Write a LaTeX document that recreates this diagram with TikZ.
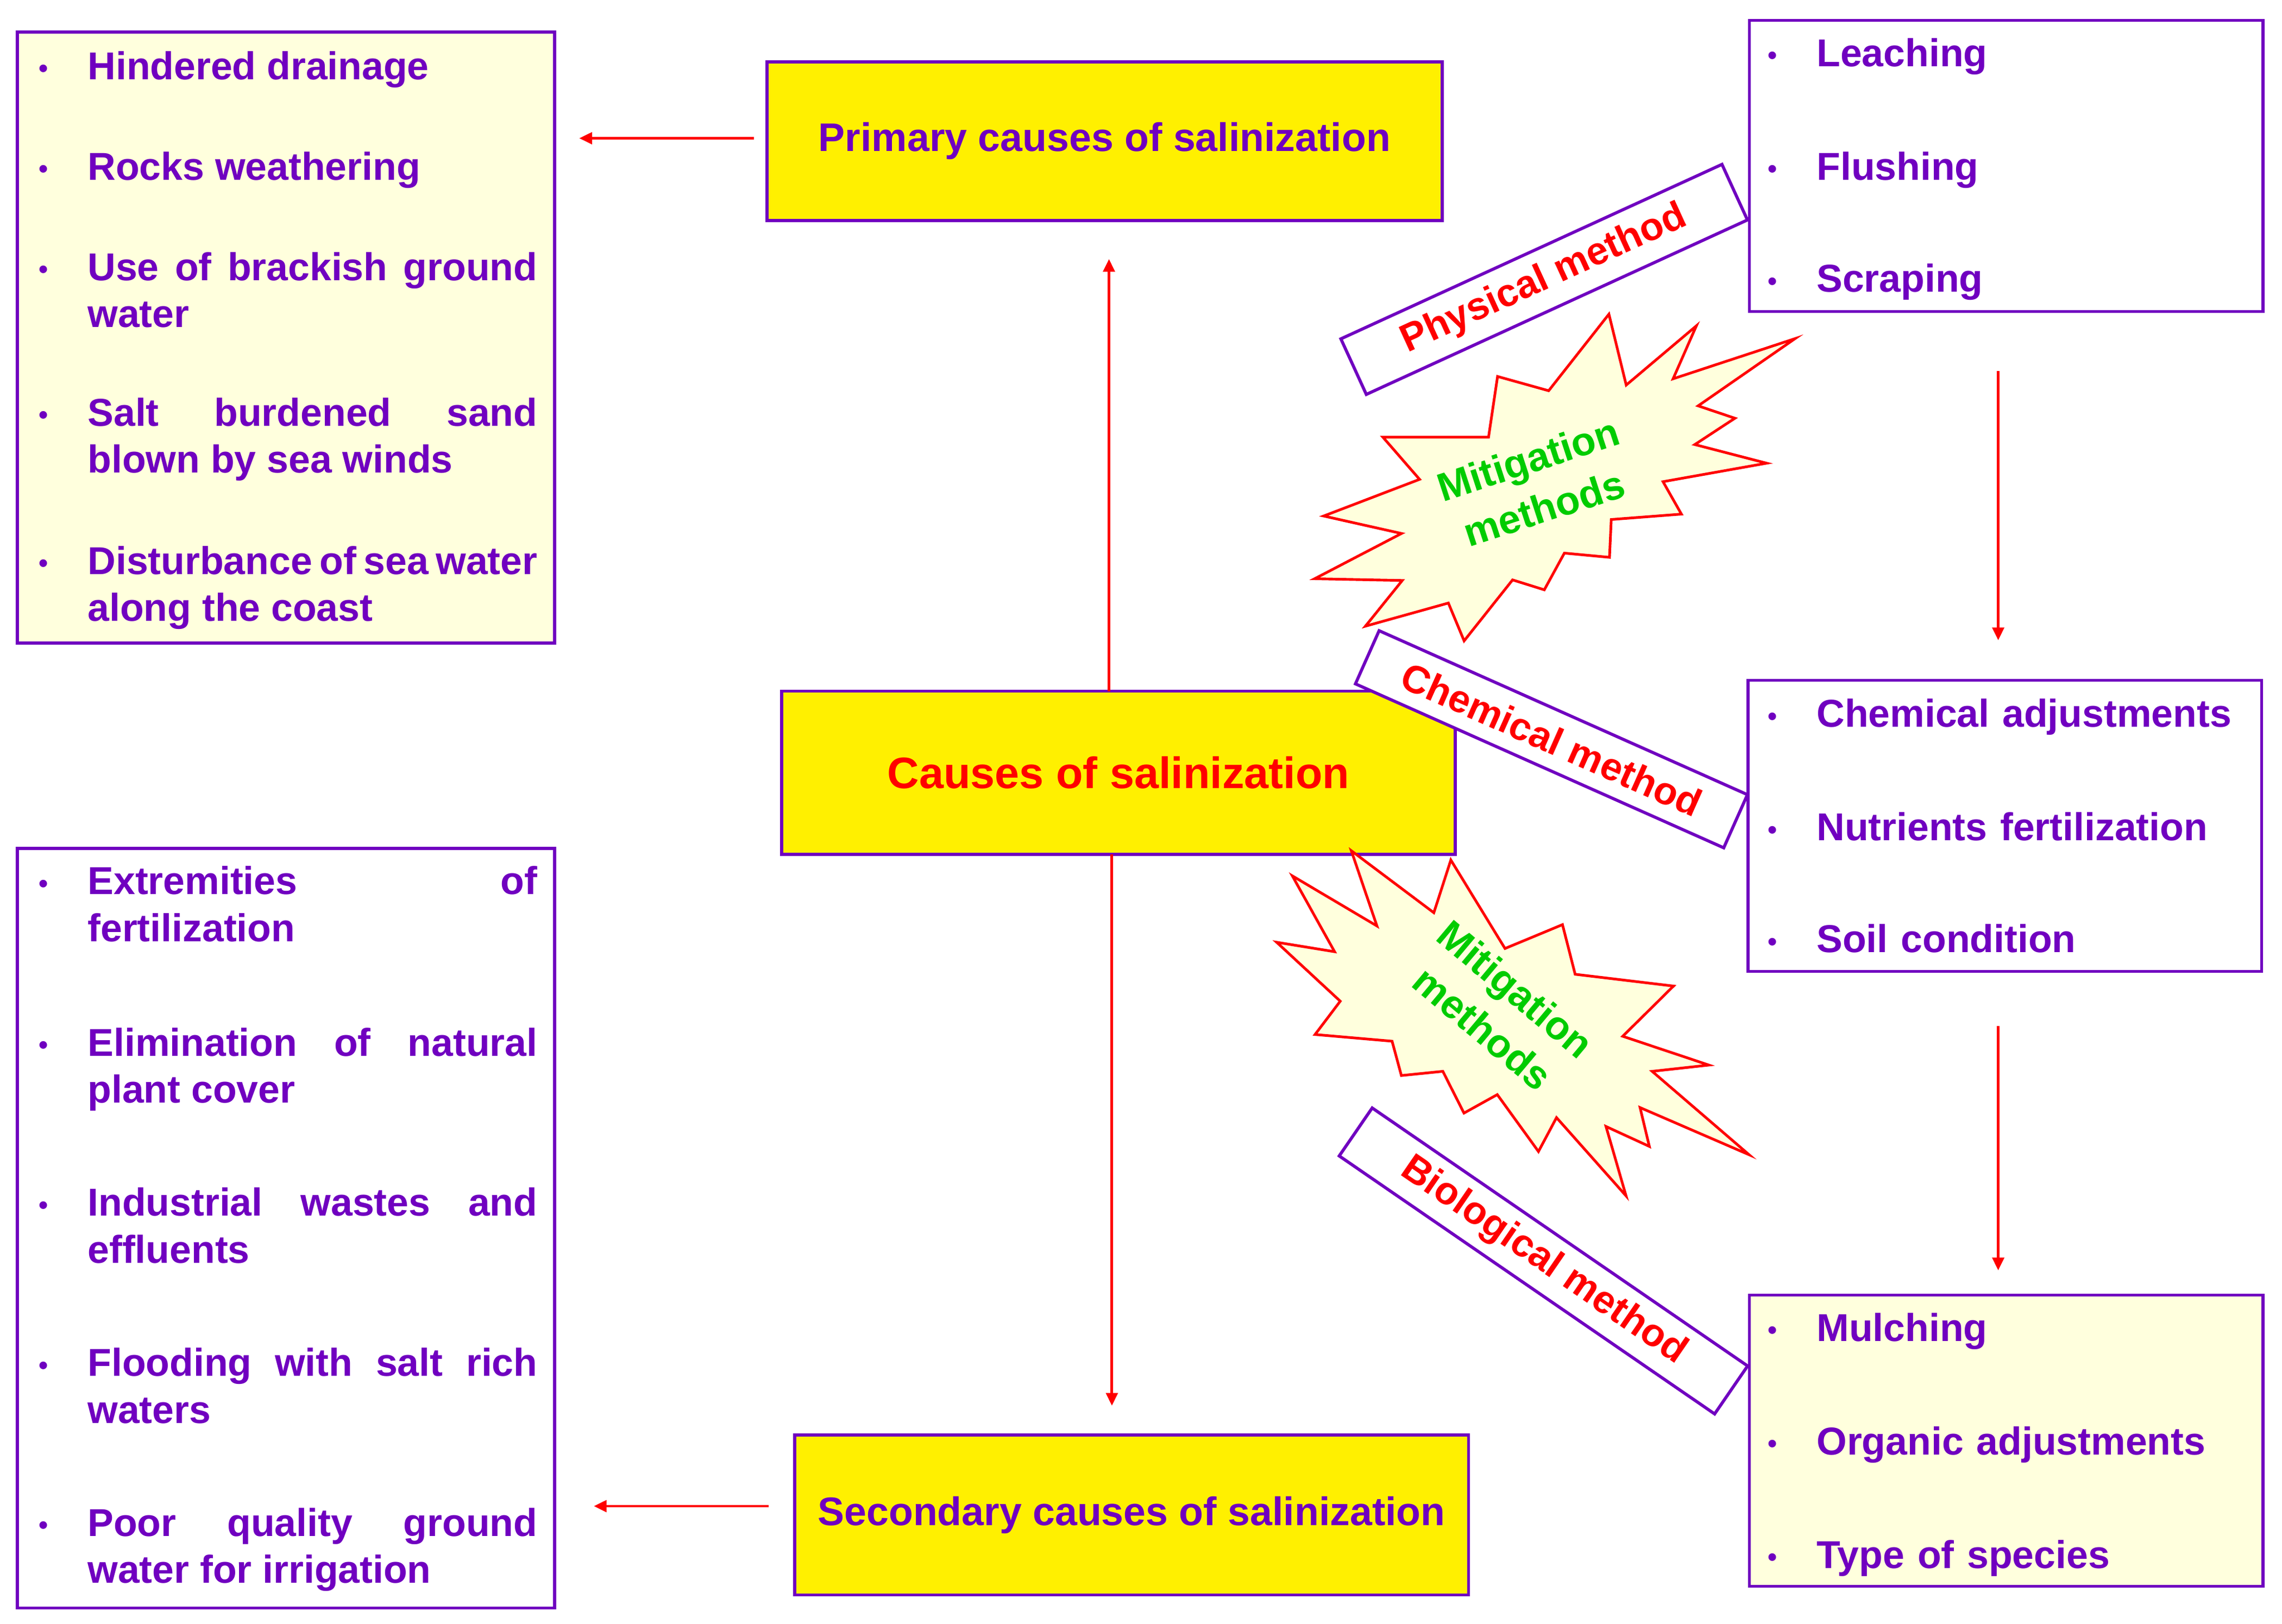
\documentclass[tikz,border=0pt]{standalone}
\usepackage{fontspec}
\setmainfont{Liberation Sans}
\usetikzlibrary{arrows.meta}
\definecolor{pur}{HTML}{7000C0}
\definecolor{yel}{HTML}{FFF000}
\definecolor{lyel}{HTML}{FFFFDD}
\definecolor{grn}{HTML}{00CC00}
\hyphenpenalty=10000
\exhyphenpenalty=10000
\begin{document}
\begin{tikzpicture}[x=0.25mm,y=-0.25mm,
  box/.style={draw=pur,line width=1.5pt},
  tx/.style={font=\fontsize{19}{23}\selectfont\bfseries, text=pur, inner sep=0pt, text width=77.25mm, align=justify, anchor=north west},
  bl/.style={font=\fontsize{13}{13}\selectfont\bfseries,text=pur,inner sep=0pt},
  arr/.style={red, line width=1.3pt, -{Triangle[length=2.2mm,width=2mm]}},
  lab/.style={box,fill=white,text=red,font=\fontsize{19}{22}\selectfont\bfseries,inner sep=0pt},
  star/.style={draw=red,fill=lyel,line width=1.3pt,line join=miter},
  mit/.style={text=grn,font=\fontsize{19.5}{25}\selectfont\bfseries,align=center,inner sep=0pt}]
\useasboundingbox (0,0) rectangle (1568,1116);
% boxes
\node[box,fill=lyel,minimum width=92.25mm,minimum height=105mm] (lt) at (196.5,232) {};
\node[box,fill=white,minimum width=92.25mm,minimum height=130.5mm] (lb) at (196.5,844) {};
\node[box,fill=yel,minimum width=116mm,minimum height=27.25mm,text=pur,font=\fontsize{19.5}{22}\selectfont\bfseries] (pr) at (759,97) {Primary causes of salinization};
\node[box,fill=yel,minimum width=115.75mm,minimum height=28mm,text=red,font=\fontsize{21.5}{24}\selectfont\bfseries] (cz) at (768.5,531) {Causes of salinization};
\node[box,fill=yel,minimum width=115.75mm,minimum height=27.5mm,text=pur,font=\fontsize{19.5}{22}\selectfont\bfseries] (sc) at (777.5,1041) {Secondary causes of salinization};
\node[box,fill=white,minimum width=88.25mm,minimum height=50mm] (rt) at (1378.5,114) {};
\node[box,fill=white,minimum width=88.25mm,minimum height=50mm] (rm) at (1377.5,567.5) {};
\node[box,fill=lyel,minimum width=88.25mm,minimum height=50mm] (rb) at (1378.5,990) {};
% left items
\foreach \y/\t [count=\i] in {45/Hindered drainage,114/Rocks weathering,183/Use of brackish ground water,283/Salt burdened sand blown by sea winds,385/Disturbance of sea water along the coast,605/Extremities of fertilization,716/Elimination of natural plant cover,826/Industrial wastes and effluents,936/Flooding with salt rich waters,1046/Poor quality ground water for irrigation}{
  \node[bl] (lbul\i) at (30,\y+4) {\textbullet};
  \node[tx] (litm\i) at (60,\y-10) {\t};
}
% right items
\foreach \y/\t [count=\i] in {36/Leaching,114/Flushing,191/Scraping,490/Chemical adjustments,568/Nutrients fertilization,645/Soil condition,912/Mulching,990/Organic adjustments,1068/Type of species}{
  \node[bl] (rbul\i) at (1218,\y+4) {\textbullet};
  \node[tx,text width=80mm,align=left] (ritm\i) at (1248,\y-10) {\t};
}
% stars
\draw[star] (1105.5,215.9) -- (1117.4,264.6) -- (1165.6,223.9) -- (1149.6,260.3) -- (1233.4,232.7) -- (1166.8,278.9) -- (1192.1,287.4) -- (1164.5,305.5) -- (1213.9,318.3) -- (1142.7,331.0) -- (1155.3,353.3) -- (1107.1,357.0) -- (1105.9,383.0) -- (1074.9,380.1) -- (1061.1,405.3) -- (1039.3,398.5) -- (1006.0,440.4) -- (995.2,414.4) -- (938.2,430.3) -- (963.5,398.9) -- (903.3,397.7) -- (963.0,366.6) -- (909.5,354.6) -- (975.4,329.4) -- (950.2,300.4) -- (1022.8,300.4) -- (1029.0,258.7) -- (1064.1,268.5) -- cycle;
\node[mit,rotate=18] (m1) at (1055.4,332.3) {Mitigation\\methods};
\draw[star] (928.5,584.6) -- (985.2,627.2) -- (996.9,591.0) -- (1034.1,651.8) -- (1073.6,635.4) -- (1082.3,669.5) -- (1149.9,677.6) -- (1115.0,712.1) -- (1174.2,731.9) -- (1135.2,736.2) -- (1201.8,793.5) -- (1126.9,761.1) -- (1133.3,787.8) -- (1103.5,774.1) -- (1117.3,821.8) -- (1069.5,768.0) -- (1057.1,791.3) -- (1028.8,752.2) -- (1005.9,764.9) -- (991.4,736.2) -- (962.9,739.1) -- (956.5,715.5) -- (903.6,710.9) -- (920.9,688.0) -- (877.2,647.5) -- (917.0,654.0) -- (888.0,601.9) -- (946.1,636.3) -- cycle;
\node[mit,rotate=-40] (m2) at (1030,693) {Mitigation\\methods};
% rotated labels
\node[lab,rotate=24.6,minimum width=72mm,minimum height=10.5mm] (phy) at (1061,192) {Physical method};
\node[lab,rotate=-24,minimum width=69.25mm,minimum height=10mm] (che) at (1066,508) {Chemical method};
\node[lab,rotate=-34.5,minimum width=78.25mm,minimum height=10mm] (bio) at (1060.5,866.5) {Biological method};
% arrows
\coordinate (a1s) at (518,95); \coordinate (a1e) at (398,95);
\coordinate (a2s) at (762,475); \coordinate (a2e) at (762,178);
\coordinate (a3s) at (764,587); \coordinate (a3e) at (764,966);
\coordinate (a4s) at (528,1035); \coordinate (a4e) at (408,1035);
\coordinate (a5s) at (1373,255); \coordinate (a5e) at (1373,440);
\coordinate (a6s) at (1373,705); \coordinate (a6e) at (1373,873);
\foreach \k in {1,...,6}{\draw[arr] (a\k s) -- (a\k e);}
\end{tikzpicture}
\end{document}
